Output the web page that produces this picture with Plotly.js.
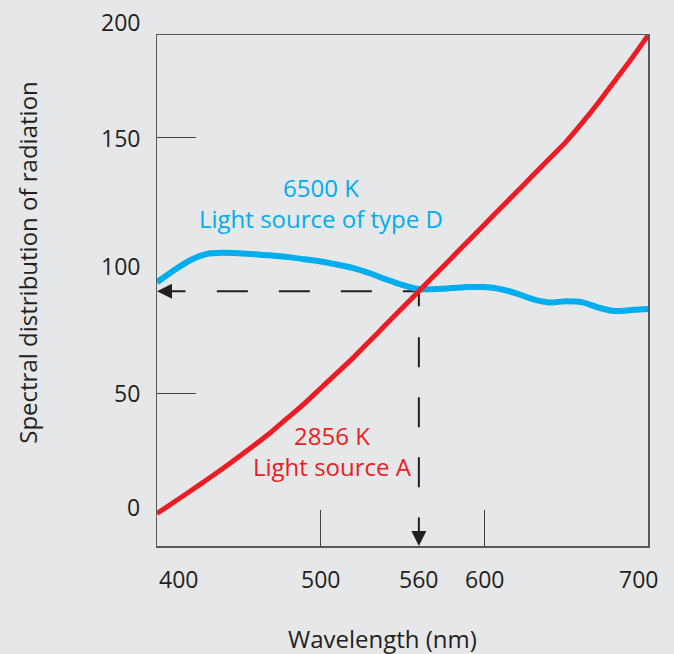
<!DOCTYPE html>
<html>
<head>
<meta charset="utf-8">
<script src="https://cdn.plot.ly/plotly-3.0.1.min.js"></script>
<style>
  html, body { margin: 0; padding: 0; background: #e6e7e8; }
  #chart { width: 674px; height: 654px; }
</style>
</head>
<body>
<div id="chart"></div>
<script>
// Wavelength grid (nm)
const wavelength = [400, 410, 420, 430, 440, 450, 460, 470, 480, 490, 500,
                    510, 520, 530, 540, 550, 560, 570, 580, 590, 600,
                    610, 620, 630, 640, 650, 660, 670, 680, 690, 700];

// Illuminant A, 2856 K
const sourceA = [3, 7.3, 11.6, 16, 20.5, 25.2, 30, 35, 40.5, 46, 52,
                 58, 64, 70.5, 77, 83.5, 90, 96.5, 103, 109.5, 116,
                 122.5, 129, 135.5, 142, 148.5, 156, 164, 172.5, 181, 190];

// Illuminant D, 6500 K
const sourceD = [93.5, 98, 102, 104.5, 105, 104.8, 104.4, 103.9, 103.3, 102.5, 101.6,
                 100.4, 99, 97, 94.6, 92.4, 90.8, 90.8, 91.2, 91.6, 91.6,
                 90.8, 89, 86.8, 85.6, 86, 85.6, 83.5, 82.2, 82.6, 83];

// Where the two curves meet
const crossWavelength = 560;
const crossValue = 90;

// Axis labels
const xTickValues = [400, 500, 560, 600, 700];
const xTickLabels = ['400', '500', '560', '600', '700'];
const yTickValues = [0, 50, 100, 150, 200];
const yTickLabels = ['0', '50', '100', '150', '200'];

const labelD = ['6500 K', 'Light source of type D'];
const labelA = ['2856 K', 'Light source A'];

const FONT = '"Open Sans", "DejaVu Sans", sans-serif';
const INK = '#231f20';
const RED = '#ed1c24';
const BLUE = '#00aeef';
const xRange = [400, 700];
const yRange = [-9.7, 190.2];

const traces = [
  { // horizontal guide from the crossing to the y axis
    x: [crossWavelength, xRange[0]], y: [crossValue, crossValue],
    mode: 'lines', hoverinfo: 'skip',
    line: { color: INK, width: 2, dash: '16px,31px,31px,31px,31px,31px,31px,500px' }
  },
  { // vertical guide from the crossing to the x axis
    x: [crossWavelength, crossWavelength], y: [crossValue, yRange[0]],
    mode: 'lines', hoverinfo: 'skip',
    line: { color: INK, width: 2, dash: '15px,31px,30px,30px,30px,30px,30px,500px' }
  },
  {
    x: wavelength, y: sourceD, mode: 'lines', name: 'D 6500 K',
    line: { color: BLUE, width: 6, shape: 'spline', smoothing: 0.8 }
  },
  {
    x: wavelength, y: sourceA, mode: 'lines', name: 'A 2856 K',
    line: { color: RED, width: 5, shape: 'spline', smoothing: 0.8 }
  }
];

// small offsets for end labels that sit away from their tick
const xNudge = { 400: 21, 700: -10 };
const yNudge = { 0: 14, 200: -12 };
const toPaperY = v => (v - yRange[0]) / (yRange[1] - yRange[0]);

const annotations = [];
xTickValues.forEach((v, i) => annotations.push({
  x: v, xref: 'x', y: 0, yref: 'paper', yanchor: 'middle', xanchor: 'center',
  yshift: -33, xshift: xNudge[v] || 0, showarrow: false,
  text: xTickLabels[i], font: { family: FONT, size: 23, color: INK }
}));
yTickValues.forEach((v, i) => annotations.push({
  x: 0, xref: 'paper', y: toPaperY(v), yref: 'paper', xanchor: 'right', yanchor: 'middle',
  xshift: -15, yshift: yNudge[v] || 0, showarrow: false,
  text: yTickLabels[i], font: { family: FONT, size: 23, color: INK }
}));

// curve labels
annotations.push({
  x: 500.4, y: 124.3, xref: 'x', yref: 'y', showarrow: false,
  text: labelD.join('<br>'), align: 'center',
  font: { family: FONT, size: 24, color: BLUE }
});
annotations.push({
  x: 507, y: 27.4, xref: 'x', yref: 'y', showarrow: false,
  text: labelA.join('<br>'), align: 'center',
  font: { family: FONT, size: 24, color: RED }
});

// arrow heads at the ends of the guides
annotations.push({
  x: 0, xref: 'paper', y: crossValue, yref: 'y', text: '',
  showarrow: true, arrowhead: 2, arrowsize: 1.5, arrowwidth: 2, arrowcolor: INK,
  ax: 30, ay: 0, standoff: 0
});
annotations.push({
  x: crossWavelength, xref: 'x', y: 0, yref: 'paper', text: '',
  showarrow: true, arrowhead: 2, arrowsize: 1.5, arrowwidth: 2, arrowcolor: INK,
  ax: 0, ay: -30, standoff: 0
});

// axis titles
annotations.push({
  x: 0.459, y: -0.181, xref: 'paper', yref: 'paper', showarrow: false,
  xanchor: 'center', yanchor: 'middle',
  text: 'Wavelength (nm)', font: { family: FONT, size: 24, color: INK }
});
annotations.push({
  x: -0.264, y: 0.555, xref: 'paper', yref: 'paper', showarrow: false,
  xanchor: 'center', yanchor: 'middle',
  textangle: -90, text: 'Spectral distribution of radiation',
  font: { family: FONT, size: 24, color: INK }
});

const layout = {
  width: 674, height: 654,
  margin: { l: 157, r: 26, t: 35, b: 108 },
  paper_bgcolor: '#e6e7e8', plot_bgcolor: '#e6e7e8',
  showlegend: false,
  xaxis: {
    range: xRange, showgrid: false, zeroline: false,
    showline: true, mirror: true, linecolor: '#58595b', linewidth: 1.5,
    ticks: 'inside', tickvals: [500, 600], ticklen: 36, tickwidth: 1.2, tickcolor: '#414042',
    showticklabels: false
  },
  yaxis: {
    range: yRange, showgrid: false, zeroline: false,
    showline: true, mirror: true, linecolor: '#58595b', linewidth: 1.5,
    ticks: 'inside', tickvals: [50, 150], ticklen: 39, tickwidth: 1.2, tickcolor: '#414042',
    showticklabels: false
  },
  annotations: annotations
};

Plotly.newPlot('chart', traces, layout, { displayModeBar: false, staticPlot: true });
</script>
</body>
</html>
